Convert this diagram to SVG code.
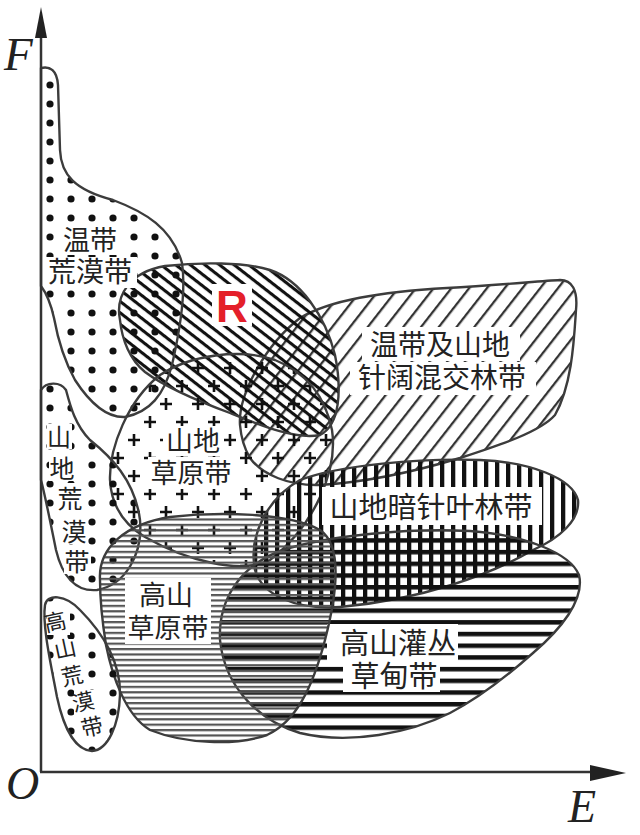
<svg xmlns="http://www.w3.org/2000/svg" width="640" height="835" viewBox="0 0 640 835">
<defs>
<style>
.zone{stroke:#3c3c3c;stroke-width:2.4;stroke-linejoin:round}
.lbl{font-family:"Liberation Sans","Noto Sans CJK SC",sans-serif;fill:#222;text-anchor:middle}
.box{fill:#fff}
.axis{stroke:#333;stroke-width:2.5;fill:none}
.ax{font-family:"Liberation Serif",serif;font-style:italic;fill:#222}
</style>
<pattern id="dots" width="21" height="19" patternUnits="userSpaceOnUse"><circle cx="8" cy="9" r="3.6" fill="#111"/></pattern>
<pattern id="hatchR" width="9" height="9" patternUnits="userSpaceOnUse" patternTransform="rotate(38)"><rect width="9" height="3.1" fill="#111"/></pattern>
<pattern id="hatchC" width="14" height="14" patternUnits="userSpaceOnUse" patternTransform="rotate(-52)"><rect width="14" height="2.3" fill="#333"/></pattern>
<pattern id="plus" width="32" height="36" patternUnits="userSpaceOnUse"><path d="M0,8h12M6,2v12M16,26h12M22,20v12" stroke="#111" stroke-width="2.6"/></pattern>
<pattern id="grayH" width="10" height="5.4" patternUnits="userSpaceOnUse"><rect width="10" height="2.2" fill="#555"/></pattern>
<pattern id="blackH" width="10" height="11.7" patternUnits="userSpaceOnUse"><rect width="10" height="4.5" fill="#111"/></pattern>
<pattern id="blackV" width="11" height="10" patternUnits="userSpaceOnUse"><rect width="4.3" height="10" fill="#111"/></pattern>
</defs>
<rect width="640" height="835" fill="#fff"/>

<g id="zhenkuo">
<path class="zone" fill="url(#hatchC)" d="M240,425 C238,395 265,345 300,318 C330,300 380,292 447,288 C500,285 540,281 560,280 C572,280 578,290 576,310 C574,340 572,385 555,415 C540,432 500,445 460,458 C420,470 370,482 320,485 C290,486 262,475 250,458 C244,448 241,437 240,425 Z"/>
<rect class="box" x="362" y="327" width="158" height="34"/>
<rect class="box" x="350" y="362" width="186" height="33"/>
<text class="lbl" x="440" y="355" font-size="28">温带及山地</text>
<text class="lbl" x="442" y="388" font-size="28">针阔混交林带</text>
</g>

<g id="R">
<path class="zone" fill="url(#hatchR)" d="M120,320 C115,295 130,272 165,266 C200,262 245,262 270,270 C300,280 325,315 335,355 C342,390 340,425 320,435 C295,440 260,425 230,413 C195,400 165,387 145,372 C130,360 122,340 120,320 Z"/>
<rect class="box" x="212" y="284" width="40" height="42"/>
<text x="232" y="322" font-size="44" font-weight="bold" fill="#e4202a" text-anchor="middle" font-family="Liberation Sans, Arial, sans-serif">R</text>
</g>

<g id="wendai-huangmo">
<path class="zone" fill="url(#dots)" d="M41,68 C50,66 57,70 58,85 L60,150 C61,175 75,190 113,200 C145,212 172,228 182,263 C186,290 180,330 172,365 C164,395 150,412 125,417 C105,418 88,400 75,380 C65,362 58,340 54,318 C50,300 44,290 41,286 Z"/>
<rect class="box" x="60" y="225" width="62" height="30"/>
<rect class="box" x="45" y="257" width="92" height="31"/>
<text class="lbl" x="90" y="250" font-size="27">温带</text>
<text class="lbl" x="90" y="282" font-size="28">荒漠带</text>
</g>

<g id="shandi-caoyuan">
<path class="zone" fill="url(#plus)" d="M110,480 C109,448 128,400 160,375 C190,355 240,348 275,360 C305,372 325,395 332,430 C338,470 315,525 270,560 C240,575 185,560 145,537 C120,522 111,500 110,480 Z"/>
<rect class="box" x="163" y="426" width="60" height="30"/>
<rect class="box" x="148" y="457" width="88" height="32"/>
<text class="lbl" x="193" y="451" font-size="27">山地</text>
<text class="lbl" x="191" y="483" font-size="27">草原带</text>
</g>

<g id="shandi-huangmo">
<path class="zone" fill="url(#dots)" d="M41,390 C46,382 60,381 66,390 C70,405 75,425 90,440 C110,456 135,480 140,520 C143,555 125,585 97,590 C75,592 62,575 56,550 C50,520 45,495 41,480 Z"/>
<rect class="box" x="47" y="424" width="25" height="25"/>
<rect class="box" x="49" y="452" width="27" height="29"/>
<rect class="box" x="57" y="483" width="27" height="29"/>
<rect class="box" x="61" y="515" width="27" height="29"/>
<rect class="box" x="64" y="545" width="27" height="29"/>
<text class="lbl" x="59" y="446" font-size="24">山</text>
<text class="lbl" x="62" y="478" font-size="25">地</text>
<text class="lbl" x="70" y="508" font-size="25">荒</text>
<text class="lbl" x="74" y="541" font-size="25">漠</text>
<text class="lbl" x="77" y="571" font-size="25">带</text>
</g>

<g id="anzhenye">
<path class="zone" fill="url(#blackV)" d="M255,570 C248,535 268,498 300,480 C340,465 420,458 480,460 C530,462 572,478 578,500 C580,520 560,538 533,550 C490,575 420,600 340,607 C295,610 262,595 255,570 Z"/>
<rect class="box" x="322" y="487" width="220" height="38"/>
<text class="lbl" x="431" y="518" font-size="29">山地暗针叶林带</text>
</g>

<g id="guanchong">
<path class="zone" fill="url(#blackH)" d="M220,640 C218,600 240,565 283,550 C330,535 410,528 470,531 C525,535 570,553 579,575 C585,600 560,630 533,653 C505,678 475,700 450,713 C410,733 350,745 300,733 C262,722 225,690 220,640 Z"/>
<rect class="box" x="327" y="624" width="131" height="37"/>
<rect class="box" x="343" y="660" width="97" height="32"/>
<text class="lbl" x="398" y="654" font-size="29">高山灌丛</text>
<text class="lbl" x="394" y="687" font-size="29">草甸带</text>
</g>

<g id="gaoshan-caoyuan">
<path class="zone" fill="url(#grayH)" d="M100,580 C98,548 125,524 170,517 C220,511 290,513 320,530 C342,545 338,590 325,640 C312,690 295,722 267,735 C235,746 185,744 150,730 C125,715 112,675 106,645 C102,620 100,600 100,580 Z"/>
<rect class="box" x="125" y="578" width="86" height="66"/>
<text class="lbl" x="166" y="605" font-size="27">高山</text>
<text class="lbl" x="168" y="638" font-size="27">草原带</text>
</g>

<g id="gaoshan-huangmo">
<path class="zone" fill="url(#dots)" d="M45,605 C47,594 65,594 80,610 C103,633 121,663 120,695 C119,725 108,750 92,751 C74,750 63,725 57,697 C51,665 42,625 45,605 Z"/>
<rect class="box" x="47" y="611" width="23" height="24"/>
<rect class="box" x="57" y="639" width="23" height="24"/>
<rect class="box" x="63" y="664" width="24" height="25"/>
<rect class="box" x="74" y="690" width="24" height="25"/>
<rect class="box" x="83" y="715" width="24" height="25"/>
<text class="lbl" x="57" y="632" font-size="22" rotate="-12">高</text>
<text class="lbl" x="67" y="659" font-size="22" rotate="-12">山</text>
<text class="lbl" x="74" y="686" font-size="22" rotate="-12">荒</text>
<text class="lbl" x="85" y="712" font-size="22" rotate="-12">漠</text>
<text class="lbl" x="94" y="737" font-size="22" rotate="-12">带</text>
</g>

<g id="axes">
<line class="axis" x1="41" y1="772" x2="41" y2="34"/>
<line class="axis" x1="40" y1="772" x2="592" y2="772"/>
<polygon points="41,7 35,38 47,38" fill="#222"/>
<polygon points="626,773 590,765 590,781" fill="#222"/>
<text class="ax" x="4" y="70" font-size="47">F</text>
<text class="ax" x="6" y="799" font-size="46">O</text>
<text class="ax" x="568" y="822" font-size="46">E</text>
</g>
</svg>
